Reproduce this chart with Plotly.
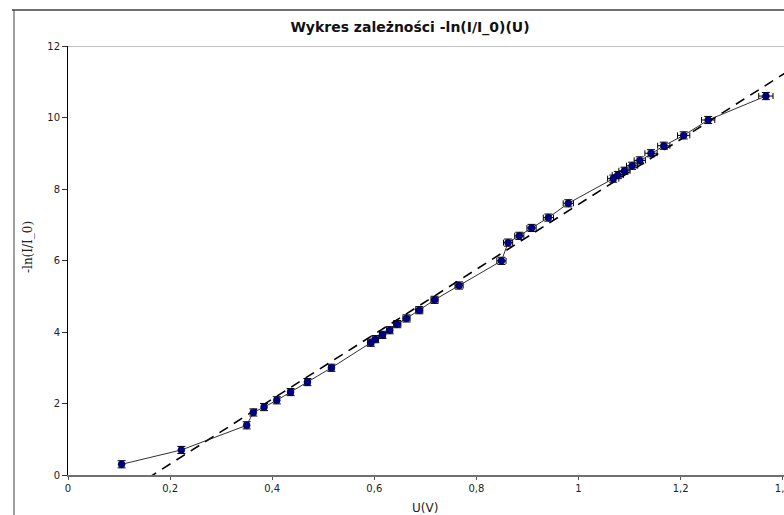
import plotly.graph_objects as go

# ---- data ----
U = [0.105, 0.222, 0.350, 0.363, 0.384, 0.409, 0.436, 0.469, 0.516, 0.593,
     0.602, 0.616, 0.630, 0.645, 0.663, 0.688, 0.718, 0.766, 0.849, 0.862,
     0.884, 0.908, 0.941, 0.980, 1.068, 1.077, 1.090, 1.105, 1.120, 1.142,
     1.167, 1.206, 1.254, 1.367]
lnI = [0.30, 0.70, 1.39, 1.75, 1.90, 2.09, 2.32, 2.60, 3.00, 3.70,
       3.80, 3.92, 4.05, 4.22, 4.38, 4.61, 4.90, 5.30, 5.99, 6.50,
       6.69, 6.91, 7.20, 7.60, 8.29, 8.39, 8.51, 8.65, 8.80, 9.00,
       9.21, 9.50, 9.93, 10.60]
err_U = [0.002, 0.003, 0.004, 0.004, 0.004, 0.004, 0.005, 0.005, 0.005, 0.006,
         0.006, 0.006, 0.006, 0.007, 0.007, 0.007, 0.007, 0.008, 0.009, 0.009,
         0.009, 0.009, 0.010, 0.010, 0.011, 0.011, 0.011, 0.011, 0.011, 0.012,
         0.012, 0.012, 0.013, 0.014]
err_ln = [0.10] * len(U)

fit_slope = 9.08
fit_intercept = -1.51
fit_U = [0.10, 1.45]
fit_ln = [fit_slope * u + fit_intercept for u in fit_U]

x_ticks = [0, 0.2, 0.4, 0.6, 0.8, 1.0, 1.2, 1.4]
x_tick_text = ["0", "0,2", "0,4", "0,6", "0,8", "1", "1,2", "1,4"]
y_ticks = [0, 2, 4, 6, 8, 10, 12]

fig = go.Figure()

fig.add_trace(go.Scatter(
    x=fit_U, y=fit_ln, mode="lines",
    line=dict(color="black", width=1.6, dash="10px,7px"),
    hoverinfo="skip", showlegend=False))

fig.add_trace(go.Scatter(
    x=U, y=lnI, mode="lines+markers",
    line=dict(color="#1a1a1a", width=0.9),
    marker=dict(symbol="circle", size=7, color="#000080",
                line=dict(color="#000040", width=0.5)),
    error_x=dict(type="data", array=err_U, visible=True, color="black",
                 thickness=1, width=3),
    error_y=dict(type="data", array=err_ln, visible=True, color="black",
                 thickness=1, width=4),
    showlegend=False))

L, T, B = 68, 46, 40
W, H = 784, 515
pw = W - L
ph = H - T - B

def px_x(px):
    return (px - L) / pw

def px_y(py):
    return (H - B - py) / ph

# outer frame (left and top edges visible in the reference)
fig.add_shape(type="line", xref="paper", yref="paper",
              x0=px_x(14), x1=px_x(14), y0=px_y(10), y1=px_y(530),
              line=dict(color="#808080", width=1.5))
fig.add_shape(type="line", xref="paper", yref="paper",
              x0=px_x(12), x1=px_x(800), y0=px_y(10), y1=px_y(10),
              line=dict(color="#404040", width=1.5))

fig.update_layout(
    width=W, height=H,
    margin=dict(l=L, r=0, t=T, b=B, pad=0),
    paper_bgcolor="white", plot_bgcolor="white",
    font=dict(family="DejaVu Sans", size=10, color="#222"),
    title=dict(text="<b>Wykres zależności -ln(I/I_0)(U)</b>",
               x=410 / W, xanchor="center", y=1 - 27 / H, yanchor="middle",
               font=dict(family="DejaVu Sans", size=14, color="#111")),
    xaxis=dict(range=[0, 1.4025], tickvals=x_ticks, ticktext=x_tick_text,
               showgrid=False, zeroline=False, showline=True,
               linecolor="#707070", linewidth=2, ticks="outside",
               ticklen=3, tickcolor="#555", mirror=False,
               automargin=False, ticklabeloverflow="allow",
               tickfont=dict(size=10, color="#222")),
    yaxis=dict(range=[0, 12], tickvals=y_ticks, automargin=False,
               showgrid=False, zeroline=False, showline=True,
               linecolor="black", linewidth=1, ticks="outside",
               ticklen=5, tickcolor="#333",
               tickfont=dict(size=10, color="#222")),
)

# top border line of plot area at y = 12
fig.add_shape(type="line", xref="paper", yref="y",
              x0=0, x1=1.05, y0=12, y1=12,
              line=dict(color="#888888", width=1))

fig.add_annotation(text="U(V)", xref="paper", yref="paper",
                   x=px_x(425), y=px_y(508), showarrow=False,
                   font=dict(family="DejaVu Sans", size=12, color="#222"),
                   xanchor="center", yanchor="middle")

fig.add_annotation(text="-ln(I/I_0)", xref="paper", yref="paper",
                   x=px_x(28), y=px_y(247), textangle=-90, showarrow=False,
                   font=dict(family="DejaVu Serif", size=12, color="#222"),
                   xanchor="center", yanchor="middle")

fig.write_html(
    "out.html",
    config={"displayModeBar": False},
    post_script="document.body.style.margin='0';"
                "document.documentElement.style.overflow='hidden';"
                "document.body.style.overflow='hidden';")
